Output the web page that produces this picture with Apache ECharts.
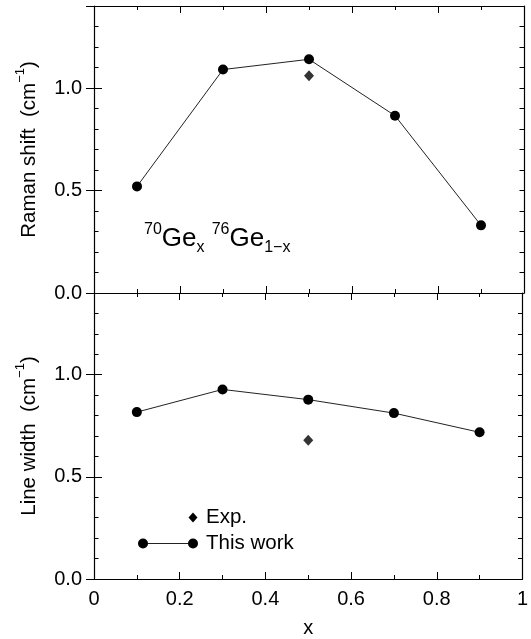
<!DOCTYPE html>
<html>
<head>
<meta charset="utf-8">
<script src="https://cdn.jsdelivr.net/npm/echarts@6/dist/echarts.min.js"></script>
<style>
  html, body { margin: 0; padding: 0; background: #fff; }
  #chart { width: 531px; height: 639px; }
</style>
</head>
<body>
<div id="chart"></div>
<script>
const xPositions = [0.1, 0.3, 0.5, 0.7, 0.9];
const ramanThisWork = [0.52, 1.09, 1.14, 0.865, 0.33];
const ramanExpX = [0.5];
const ramanExp = [1.06];
const widthThisWork = [0.817, 0.928, 0.878, 0.812, 0.718];
const widthExpX = [0.5];
const widthExp = [0.679];
const xTickLabels = ["0", "0.2", "0.4", "0.6", "0.8", "1"];
const yTickLabels = ["0.0", "0.5", "1.0"];

const FONT = "Liberation Sans";
const INK = "#000";

const pairs = (xs, ys) => xs.map((x, i) => [x, ys[i]]);

// x axes: bottom + mirrored top, ticks inside
const makeXAxes = (gridIndex, withLabels) => {
  const common = {
    type: "value",
    gridIndex,
    min: 0,
    max: 1,
    interval: 0.2,
    splitLine: { show: false },
    axisLine: { show: true, onZero: false, lineStyle: { color: INK, width: 1.2 } },
    axisTick: { show: true, inside: true, length: 7, lineStyle: { color: INK, width: 1 } },
    minorTick: { show: true, splitNumber: 2, length: 4, lineStyle: { color: INK, width: 1 } },
  };
  return [
    {
      ...common,
      position: "bottom",
      name: withLabels ? "x" : "",
      nameLocation: "middle",
      nameGap: 39,
      nameTextStyle: { fontFamily: FONT, fontSize: 20, color: INK },
      axisLabel: {
        show: withLabels,
        margin: 10,
        fontFamily: FONT,
        fontSize: 20,
        color: INK,
        formatter: (v) => xTickLabels[Math.round(v / 0.2)],
      },
    },
    { ...common, position: "top", axisLabel: { show: false } },
  ];
};

// y axes: minor ticks (0.1) and major ticks (0.5), left and right
const makeYAxes = (gridIndex, title) => {
  const common = {
    type: "value",
    gridIndex,
    min: 0,
    max: 1.4,
    splitLine: { show: false },
  };
  const minor = (position) => ({
    ...common,
    position,
    interval: 0.1,
    axisLine: { show: true, onZero: false, lineStyle: { color: INK, width: 1.2 } },
    axisTick: { show: true, inside: true, length: 4.5, lineStyle: { color: INK, width: 1 } },
    axisLabel: { show: false },
  });
  const major = (position, labels) => ({
    ...common,
    position,
    interval: 0.5,
    axisLine: { show: false },
    axisTick: { show: true, inside: true, length: 8, lineStyle: { color: INK, width: 1 } },
    axisLabel: {
      show: labels,
      margin: 12,
      fontFamily: FONT,
      fontSize: 20,
      color: INK,
      formatter: (v) => {
        const k = Math.round(v / 0.5);
        return Math.abs(v - k * 0.5) < 1e-6 ? yTickLabels[k] || "" : "";
      },
    },
    name: labels ? "{n|" + title + "  (cm}{sup|−1}{n|)}" : "",
    nameLocation: "middle",
    nameRotate: 90,
    nameGap: 54,
    nameTextStyle: {
      fontFamily: FONT,
      color: INK,
      rich: {
        n: { fontFamily: FONT, fontSize: 20.5, color: INK, lineHeight: 26, verticalAlign: "bottom" },
        sup: { fontFamily: FONT, fontSize: 13, color: INK, lineHeight: 14, verticalAlign: "top" },
      },
    },
  });
  return [minor("left"), major("left", true), minor("right"), major("right", false)];
};

const thisWorkStyle = {
  type: "line",
  symbol: "circle",
  symbolSize: 10,
  itemStyle: { color: INK },
  lineStyle: { color: "#222", width: 1 },
  z: 5,
};
const expStyle = {
  type: "scatter",
  symbol: "diamond",
  symbolSize: [10, 11],
  itemStyle: { color: INK },
  z: 5,
};

const chart = echarts.init(document.getElementById("chart"));
chart.setOption({
  animation: false,
  backgroundColor: "#fff",
  grid: [
    { left: 94, right: 7, top: 6, height: 287 },
    { left: 94, right: 7, top: 293, height: 287 },
  ],
  xAxis: [...makeXAxes(0, false), ...makeXAxes(1, true)],
  yAxis: [...makeYAxes(0, "Raman shift"), ...makeYAxes(1, "Line width")],
  series: [
    { ...thisWorkStyle, name: "This work", xAxisIndex: 0, yAxisIndex: 0, data: pairs(xPositions, ramanThisWork) },
    { ...expStyle, name: "Exp.", xAxisIndex: 0, yAxisIndex: 0, data: pairs(ramanExpX, ramanExp) },
    { ...thisWorkStyle, name: "This work", xAxisIndex: 2, yAxisIndex: 4, data: pairs(xPositions, widthThisWork) },
    { ...expStyle, name: "Exp.", xAxisIndex: 2, yAxisIndex: 4, data: pairs(widthExpX, widthExp) },
  ],
  graphic: [
    // sample label in the upper panel
    {
      type: "text",
      left: 144,
      top: 222,
      style: {
        text: "{sup|70}{ge|Ge}{sub|x}{ge| }{sup|76}{ge|Ge}{sub|1−x}",
        fontFamily: FONT,
        fill: INK,
        rich: {
          ge: { fontFamily: FONT, fontSize: 26, fill: INK, lineHeight: 34, verticalAlign: "middle" },
          sup: { fontFamily: FONT, fontSize: 16, fill: INK, lineHeight: 12, verticalAlign: "top" },
          sub: { fontFamily: FONT, fontSize: 16, fill: INK, lineHeight: 22, verticalAlign: "bottom" },
        },
      },
    },
    // legend
    { type: "polygon", shape: { points: [[193, 512.5], [197.5, 517.5], [193, 522.5], [188.5, 517.5]] }, style: { fill: INK } },
    { type: "line", shape: { x1: 143, y1: 543.5, x2: 193, y2: 543.5 }, style: { stroke: "#222", lineWidth: 1 } },
    { type: "circle", shape: { cx: 143, cy: 543.5, r: 5 }, style: { fill: INK } },
    { type: "circle", shape: { cx: 193, cy: 543.5, r: 5 }, style: { fill: INK } },
    { type: "text", x: 206, y: 517.5, style: { text: "Exp.", fontFamily: FONT, fontSize: 20.5, fill: INK, verticalAlign: "middle" } },
    { type: "text", x: 206, y: 543.5, style: { text: "This work", fontFamily: FONT, fontSize: 20.5, fill: INK, verticalAlign: "middle" } },
  ],
});
</script>
</body>
</html>
